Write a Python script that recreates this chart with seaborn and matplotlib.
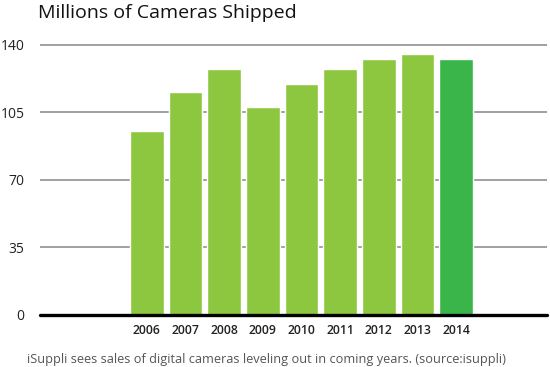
import seaborn as sns
from matplotlib import pyplot as plt
import pandas as pd

# Millions of cameras shipped per year
years = ["2006", "2007", "2008", "2009", "2010", "2011", "2012", "2013", "2014"]
shipped = [95.5, 115.4, 127.5, 107.7, 119.9, 127.4, 132.9, 135.5, 132.9]
y_ticks = [0, 35, 70, 105, 140]

df = pd.DataFrame({"year": years, "shipped": shipped})

sns.set_theme(style="white")
plt.rcParams['font.family'] = ['Open Sans', 'DejaVu Sans']

# light green for the past years, stronger green for the forecast year
palette = {y: '#8dc63f' for y in years}
palette["2014"] = '#39b54a'

fig = plt.figure(figsize=(5.5, 3.67), dpi=100)
ax = fig.add_axes([40 / 550, 1 - 315 / 367, 507 / 550, 273.9 / 367])

sns.barplot(data=df, x="year", y="shipped", hue="year", palette=palette,
            width=0.867, saturation=1, legend=False, ax=ax)

ax.set_xlim(-2.76, 10.35)
ax.set_ylim(0, 142)
ax.set_yticks(y_ticks)
ax.set_yticklabels([str(t) for t in y_ticks])

# grey guide lines behind the bars, heavy black baseline
ax.set_axisbelow(True)
ax.yaxis.grid(True, color='#999999', linewidth=1.3)
ax.axhline(0, color='black', linewidth=2.4, zorder=5, clip_on=False)
sns.despine(left=True, bottom=True)

ax.tick_params(axis='y', length=0, pad=11, labelsize=10, labelcolor='#222222')
ax.tick_params(axis='x', length=0, pad=6.5, labelsize=8.8, labelcolor='#222222')
for lab in ax.get_xticklabels():
    lab.set_fontweight('semibold')
ax.set_xlabel("")
ax.set_ylabel("")

fig.text(38 / 550, 1 - 13 / 367, "Millions of Cameras Shipped",
         fontsize=14, color='#111111', va='center', ha='left')
fig.text(27 / 550, 1 - 360 / 367,
         "iSuppli sees sales of digital cameras leveling out in coming years. (source:isuppli)",
         fontsize=9.2, color='#555555', va='center', ha='left')

fig.savefig("out.png", dpi=100)
